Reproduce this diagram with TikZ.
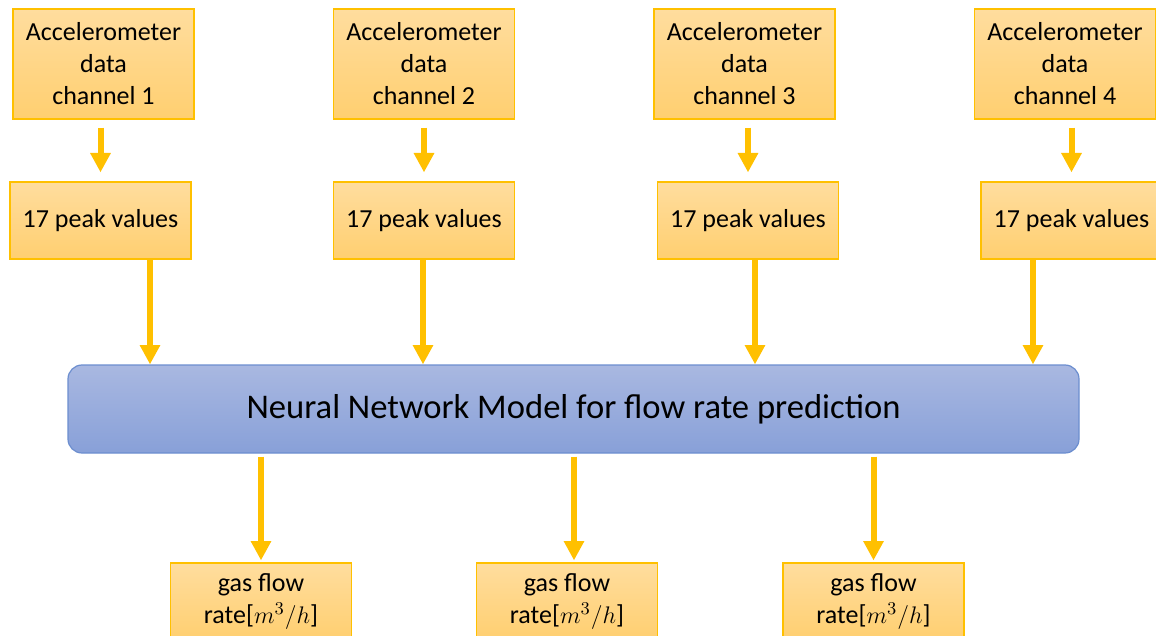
\documentclass[tikz,border=0pt]{standalone}
\usepackage{fontspec}
\setmainfont{Carlito}
\usetikzlibrary{arrows.meta}

\definecolor{boxtop}{RGB}{255,221,158}
\definecolor{boxbot}{RGB}{255,207,112}
\definecolor{boxline}{RGB}{255,192,0}
\definecolor{nntop}{RGB}{169,184,225}
\definecolor{nnbot}{RGB}{136,160,216}
\definecolor{nnline}{RGB}{108,142,207}

\tikzset{
  databox/.style={draw=boxline, line width=0.6pt, top color=boxtop, bottom color=boxbot,
                  minimum width=90.5pt, inner sep=0pt, align=center,
                  font=\fontsize{13}{16}\selectfont},
  chanbox/.style={databox, minimum height=55pt},
  peakbox/.style={databox, minimum height=38.5pt},
  nnbox/.style={draw=nnline, line width=0.6pt, top color=nntop, bottom color=nnbot,
                rounded corners=7pt, minimum width=505.5pt, minimum height=44pt,
                font=\fontsize{17.3}{20}\selectfont},
  flow/.style={draw=boxline, line width=3pt,
               -{Triangle[width=9.7pt,length=9.7pt]}}
}

\begin{document}
\begin{tikzpicture}[x=0.5pt,y=-0.5pt]
   \clip (0,0) rectangle (1156,636);
   % sensor channels
   \node[chanbox] (a1) at (103.5,64) {Accelerometer\\data\\channel 1};
   \node[chanbox] (a2) at (424,64)   {Accelerometer\\data\\channel 2};
   \node[chanbox] (a3) at (744.5,64) {Accelerometer\\data\\channel 3};
   \node[chanbox] (a4) at (1065,64)  {Accelerometer\\data\\channel 4};
   % features
   \node[peakbox] (p1) at (100.5,220.5)  {17 peak values};
   \node[peakbox] (p2) at (424,220.5)    {17 peak values};
   \node[peakbox] (p3) at (748,220.5)    {17 peak values};
   \node[peakbox] (p4) at (1071.5,220.5) {17 peak values};
   % model
   \node[nnbox] (nn) at (573.5,409) {Neural Network Model for flow rate prediction};
   % outputs
   \node[peakbox] (g1) at (261,601.5)   {gas flow\\rate[$m^3/h$]};
   \node[peakbox] (g2) at (567,601.5)   {gas flow\\rate[$m^3/h$]};
   \node[peakbox] (g3) at (873.5,601.5) {gas flow\\rate[$m^3/h$]};

   \draw[flow, shorten <=4pt, shorten >=4.5pt] (a1.south -| p1.north) -- (p1.north);
   \draw[flow, shorten <=4pt, shorten >=4.5pt] (a2.south -| p2.north) -- (p2.north);
   \draw[flow, shorten <=4pt, shorten >=4.5pt] (a3.south -| p3.north) -- (p3.north);
   \draw[flow, shorten <=4pt, shorten >=4.5pt] (a4.south -| p4.north) -- (p4.north);

   \coordinate (o1) at ([xshift=24.75pt]p1.south);
   \coordinate (o2) at ([xshift=-0.5pt]p2.south);
   \coordinate (o3) at ([xshift=3.5pt]p3.south);
   \coordinate (o4) at ([xshift=-19.25pt]p4.south);
   \draw[flow] (o1) -- (o1 |- nn.north);
   \draw[flow] (o2) -- (o2 |- nn.north);
   \draw[flow] (o3) -- (o3 |- nn.north);
   \draw[flow] (o4) -- (o4 |- nn.north);

   \coordinate (i2) at ([xshift=3.5pt]g2.north);
   \draw[flow, shorten <=1.5pt, shorten >=1pt] (nn.south -| g1.north) -- (g1.north);
   \draw[flow, shorten <=1.5pt, shorten >=1pt] (nn.south -| i2) -- (i2);
   \draw[flow, shorten <=1.5pt, shorten >=1pt] (nn.south -| g3.north) -- (g3.north);
\end{tikzpicture}
\end{document}
